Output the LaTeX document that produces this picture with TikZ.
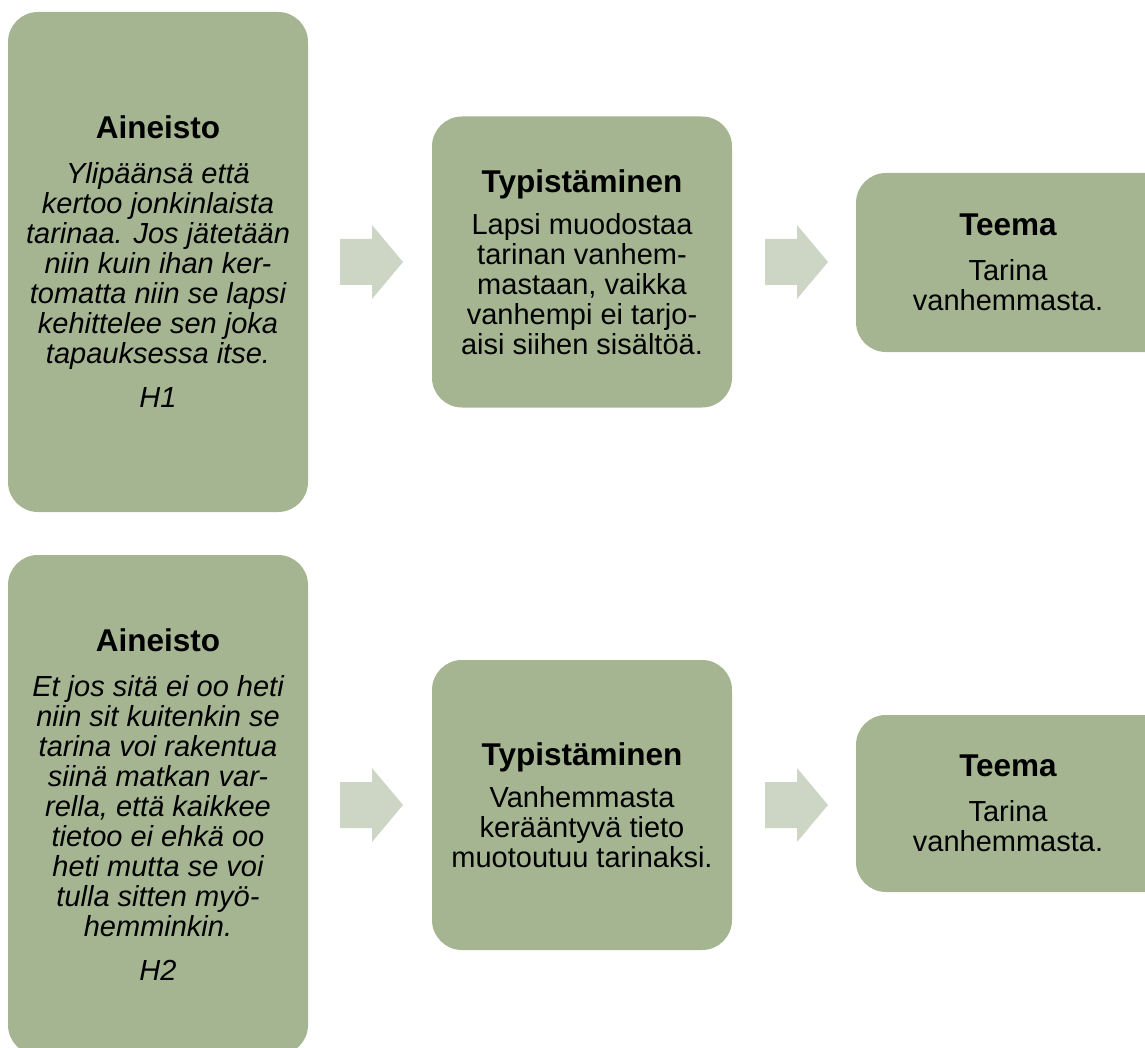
\documentclass[tikz,border=0pt]{standalone}
\usepackage{fontspec}
\setmainfont{Liberation Sans}
\definecolor{boxgreen}{RGB}{165,181,146}
\definecolor{arrowgreen}{RGB}{205,214,196}
\tikzset{
  stagebox/.style={draw=none, fill=boxgreen, rounded corners=30pt, inner sep=0pt,
    align=center, text=black, font=\fontsize{29}{30}\selectfont},
  stagetext/.style={inner sep=0pt, align=center, text=black, font=\fontsize{29}{30}\selectfont},
  flowarrow/.style={fill=arrowgreen, draw=none},
}
\newcommand{\ttl}[1]{{\fontsize{31.5}{30}\selectfont\bfseries #1}}
\newcommand{\flowarrowat}[1]{\path[flowarrow] (#1) ++(-31.5,-23) -- ++(32,0) -- ++(0,-14) -- ++(31,37) -- ++(-31,37) -- ++(0,-14) -- ++(-32,0) -- cycle;}
\begin{document}
\begin{tikzpicture}[x=1pt,y=-1pt]
\useasboundingbox (0,0) rectangle (1145,1048);
\clip (0,0) rectangle (1145,1048);
% row 1
\node[stagebox, minimum width=300pt, minimum height=500pt] (a1) at (158,262)
  {\ttl{Aineisto}\\[15pt]
   \itshape Ylipäänsä että\\ \itshape kertoo jonkinlaista\\ \itshape tarinaa. Jos jätetään\\
   \itshape niin kuin ihan ker-\\ \itshape tomatta niin se lapsi\\ \itshape kehittelee sen joka\\
   \itshape tapauksessa itse.\\[14pt] \itshape H1};
\node[stagebox, minimum width=300pt, minimum height=291pt] (t1) at (582,262)
  {\ttl{Typistäminen}\\[12pt]
   Lapsi muodostaa\\ tarinan vanhem-\\ mastaan, vaikka\\ vanhempi ei tarjo-\\ aisi siihen sisältöä.};
\node[stagebox, minimum width=344pt, minimum height=179pt] (e1) at (1028,262.5) {};
\node[stagetext] (e1t) at (1008,262.5) {\ttl{Teema}\\[15pt] Tarina\\ vanhemmasta.};
\coordinate (r1) at (371.5,262);
\coordinate (s1) at (796.5,262);
\flowarrowat{r1}
\flowarrowat{s1}
% row 2
\node[stagebox, minimum width=300pt, minimum height=500pt] (a2) at (158,805)
  {\ttl{Aineisto}\\[15pt]
   \itshape Et jos sitä ei oo heti\\ \itshape niin sit kuitenkin se\\ \itshape tarina voi rakentua\\
   \itshape siinä matkan var-\\ \itshape rella, että kaikkee\\ \itshape tietoo ei ehkä oo\\
   \itshape heti mutta se voi\\ \itshape tulla sitten myö-\\ \itshape hemminkin.\\[14pt] \itshape H2};
\node[stagebox, minimum width=300pt, minimum height=290pt] (t2) at (582,805)
  {\ttl{Typistäminen}\\[12pt]
   Vanhemmasta\\ kerääntyvä tieto\\ muotoutuu tarinaksi.};
\node[stagebox, minimum width=344pt, minimum height=177pt] (e2) at (1028,803.5) {};
\node[stagetext] (e2t) at (1008,803.5) {\ttl{Teema}\\[15pt] Tarina\\ vanhemmasta.};
\coordinate (r2) at (371.5,805);
\coordinate (s2) at (796.5,805);
\flowarrowat{r2}
\flowarrowat{s2}
\end{tikzpicture}
\end{document}
